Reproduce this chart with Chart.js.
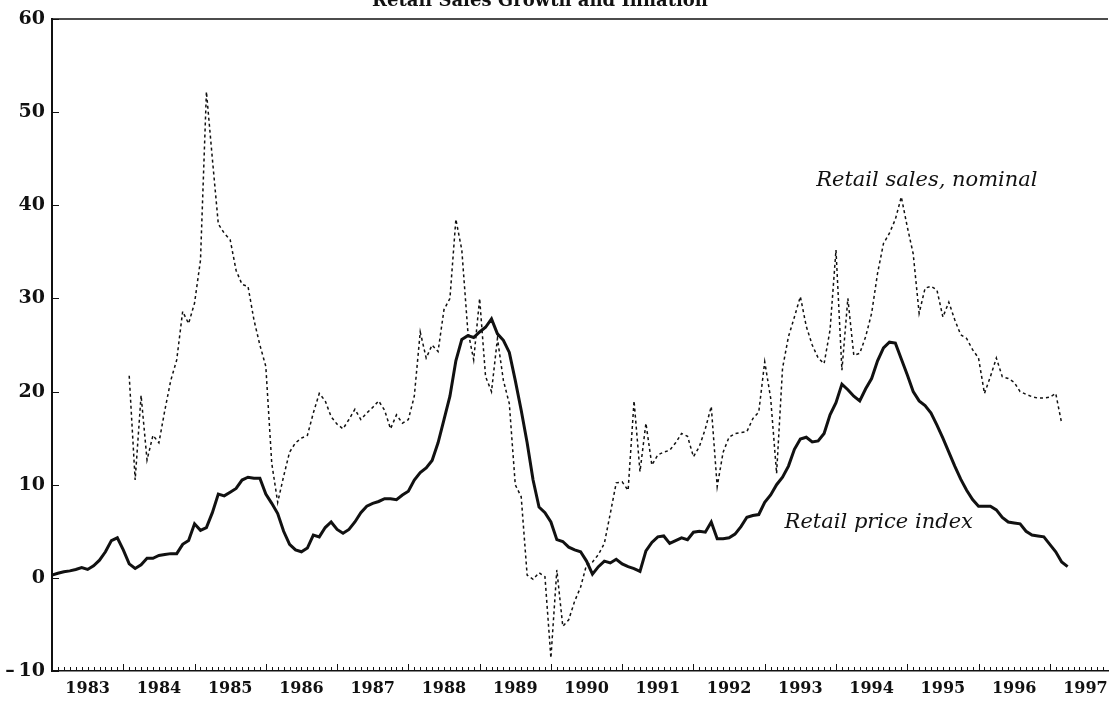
<!DOCTYPE html>
<html>
<head>
<meta charset="utf-8">
<title>Retail sales and retail price index</title>
<script src="https://cdn.jsdelivr.net/npm/chart.js@4.4.1/dist/chart.umd.min.js"></script>
<style>
  html, body { margin: 0; padding: 0; background: #fff; }
  #wrap { width: 1111px; height: 701px; }
</style>
</head>
<body>
<div id="wrap"><canvas id="chart" width="1111" height="701"></canvas></div>
<script>
// --- Data (monthly, index 0 = Jan 1983) ---
const yearLabels = ['1983', '1984', '1985', '1986', '1987', '1988', '1989', '1990',
                    '1991', '1992', '1993', '1994', '1995', '1996', '1997'];
const yTicks = [-10, 0, 10, 20, 30, 40, 50, 60];

// Retail price index, % change
const rpiStart = 0;
const rpiValues = [
  0.3, 0.5, 0.65, 0.75, 0.9, 1.1, 0.9, 1.3, 1.9, 2.8, 4.0, 4.3,
  3.0, 1.5, 1.0, 1.4, 2.1, 2.1, 2.4, 2.5, 2.6, 2.6, 3.6, 4.0,
  5.8, 5.1, 5.4, 7.0, 9.0, 8.8, 9.2, 9.6, 10.5, 10.8, 10.7, 10.7,
  9.0, 8.0, 6.9, 5.0, 3.6, 3.0, 2.8, 3.2, 4.6, 4.4, 5.4, 6.0,
  5.2, 4.8, 5.2, 6.0, 7.0, 7.7, 8.0, 8.2, 8.5, 8.5, 8.4, 8.9,
  9.3, 10.5, 11.3, 11.8, 12.6, 14.5, 17.0, 19.5, 23.3, 25.6, 26.0, 25.8,
  26.4, 26.9, 27.8, 26.2, 25.5, 24.2, 21.2, 18.0, 14.5, 10.5, 7.6, 7.0,
  6.0, 4.1, 3.9, 3.3, 3.0, 2.8, 1.8, 0.4, 1.2, 1.8, 1.6, 2.0,
  1.5, 1.2, 1.0, 0.7, 2.9, 3.8, 4.4, 4.5, 3.7, 4.0, 4.3, 4.1,
  4.9, 5.0, 4.9, 6.0, 4.2, 4.2, 4.3, 4.7, 5.5, 6.5, 6.7, 6.8,
  8.1, 8.9, 10.0, 10.8, 12.0, 13.8, 14.9, 15.1, 14.6, 14.7, 15.5, 17.5,
  18.8, 20.8, 20.2, 19.5, 19.0, 20.3, 21.4, 23.3, 24.7, 25.3, 25.2, 23.5,
  21.8, 20.0, 19.0, 18.5, 17.7, 16.4, 15.0, 13.5, 12.0, 10.6, 9.4, 8.4,
  7.7, 7.7, 7.7, 7.3, 6.5, 6.0, 5.9, 5.8, 5.0, 4.6, 4.5, 4.4,
  3.6, 2.8, 1.7, 1.2
];

// Retail sales, nominal, % change (starts Feb 1984)
const salesStart = 13;
const salesValues = [
  21.7, 10.5, 19.6, 12.65, 15.3, 14.5, 18.0, 21.2, 23.4, 28.6, 27.3,
  29.5, 34.1, 52.2, 45.0, 38.0, 37.0, 36.3, 33.0, 31.5, 31.3, 27.7, 25.0,
  22.7, 12.3, 8.1, 10.9, 13.5, 14.5, 15.0, 15.3, 17.7, 19.8, 19.0, 17.3,
  16.5, 16.0, 17.0, 18.1, 17.0, 17.7, 18.3, 19.0, 18.0, 16.0, 17.5, 16.6,
  17.0, 19.5, 26.4, 23.6, 25.0, 24.3, 28.8, 30.0, 38.5, 35.2, 26.6, 23.4,
  30.0, 21.6, 20.0, 25.7, 21.2, 18.7, 10.0, 8.7, 0.3, -0.15, 0.55, 0.12,
  -8.6, 0.85, -5.2, -4.5, -2.5, -1.0, 1.4, 1.7, 2.5, 3.7, 6.9, 10.2,
  10.3, 9.4, 19.0, 11.4, 16.6, 12.1, 13.2, 13.5, 13.7, 14.5, 15.5, 15.2,
  13.0, 14.1, 16.0, 18.4, 9.8, 13.5, 15.1, 15.5, 15.6, 15.7, 17.1, 17.8,
  23.2, 19.3, 11.2, 22.5, 25.9, 28.0, 30.2, 27.0, 25.0, 23.6, 23.0, 26.6,
  35.2, 22.3, 30.0, 23.9, 24.1, 25.9, 28.4, 32.7, 35.9, 37.0, 38.5, 40.9,
  37.7, 34.8, 28.4, 31.1, 31.3, 30.9, 28.0, 29.6, 27.7, 26.1, 25.7, 24.5,
  23.6, 19.8, 21.6, 23.6, 21.6, 21.4, 21.0, 20.0, 19.7, 19.45, 19.3, 19.3,
  19.4, 19.8, 16.6
];

// --- Helpers ---
const FONT = '"DejaVu Serif", "Liberation Serif", serif';
const INK = '#111';
const monthsShown = 177.8;

function toPoints(start, values) {
  return values.map((v, i) => ({ x: start + i, y: v }));
}

// ticks, frame line and in-plot text
const axisMarks = {
  id: 'axisMarks',
  afterDraw(chart) {
    const { ctx, chartArea: a, scales: { x, y } } = chart;
    ctx.save();
    ctx.strokeStyle = INK;

    ctx.lineWidth = 1.5;
    ctx.beginPath();
    ctx.moveTo(a.left, a.top);
    ctx.lineTo(a.right, a.top);
    ctx.stroke();

    // monthly ticks, taller at each January
    ctx.lineWidth = 1;
    for (let m = 0; m <= monthsShown; m++) {
      const px = Math.round(x.getPixelForValue(m)) + 0.5;
      const len = m % 12 === 0 ? 7 : 4;
      ctx.beginPath();
      ctx.moveTo(px, a.bottom);
      ctx.lineTo(px, a.bottom - len);
      ctx.stroke();
    }

    yTicks.forEach(v => {
      const py = Math.round(y.getPixelForValue(v)) + 0.5;
      ctx.beginPath();
      ctx.moveTo(a.left, py);
      ctx.lineTo(a.left + 7, py);
      ctx.stroke();
    });

    ctx.fillStyle = INK;
    ctx.textAlign = 'center';
    ctx.textBaseline = 'alphabetic';
    ctx.font = 'italic 21px ' + FONT;
    ctx.fillText('Retail sales, nominal', x.getPixelForValue(147.3), y.getPixelForValue(42.1));
    ctx.fillText('Retail price index', x.getPixelForValue(139.2), y.getPixelForValue(5.3));

    // title, mostly cut off at the top edge
    ctx.font = 'bold 18px ' + FONT;
    ctx.fillText('Retail Sales Growth and Inflation', 540, 6);
    ctx.restore();
  }
};

// --- Chart ---
const ctx = document.getElementById('chart').getContext('2d');
new Chart(ctx, {
  type: 'line',
  data: {
    datasets: [
      {
        label: 'Retail sales, nominal',
        data: toPoints(salesStart, salesValues),
        borderColor: INK,
        borderWidth: 1.5,
        borderDash: [3, 3],
        pointRadius: 0,
        tension: 0,
        fill: false
      },
      {
        label: 'Retail price index',
        data: toPoints(rpiStart, rpiValues),
        borderColor: INK,
        borderWidth: 3,
        pointRadius: 0,
        tension: 0,
        fill: false
      }
    ]
  },
  options: {
    responsive: false,
    devicePixelRatio: 1,
    animation: false,
    layout: { padding: { top: 19, right: 3, left: 0, bottom: 0 } },
    plugins: {
      legend: { display: false },
      tooltip: { enabled: false }
    },
    scales: {
      x: {
        type: 'linear',
        min: 0,
        max: monthsShown,
        grid: { display: false, drawTicks: false },
        border: { display: true, color: INK, width: 1.5 },
        afterBuildTicks: (scale) => {
          scale.ticks = yearLabels.map((_, i) => ({ value: i * 12 + 6 }));
        },
        afterFit: (scale) => {
          scale.height = 30;
          // keep the last year label from shrinking the plot
          scale.paddingLeft = 0;
          scale.paddingRight = 0;
        },
        ticks: {
          autoSkip: false,
          maxRotation: 0,
          padding: 8,
          color: INK,
          font: { family: FONT, size: 16, weight: 'bold' },
          callback: (v) => yearLabels[Math.round((v - 6) / 12)]
        }
      },
      y: {
        min: -10,
        max: 60,
        grid: { display: false, drawTicks: false },
        border: { display: true, color: INK, width: 2 },
        afterBuildTicks: (scale) => {
          scale.ticks = yTicks.map(v => ({ value: v }));
        },
        afterFit: (scale) => { scale.width = 52; },
        ticks: {
          padding: 7,
          color: INK,
          font: { family: FONT, size: 19, weight: 'bold' },
          callback: (v) => v < 0 ? '\u2013\u2009' + Math.abs(v) : String(v)
        }
      }
    }
  },
  plugins: [axisMarks]
});
</script>
</body>
</html>
